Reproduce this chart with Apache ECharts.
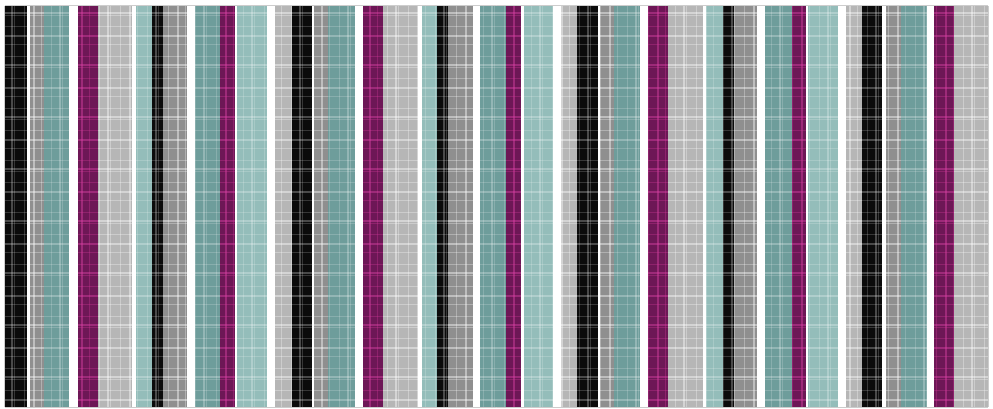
<!DOCTYPE html>
<html>
<head>
<meta charset="utf-8">
<script src="https://cdn.jsdelivr.net/npm/echarts@6/dist/echarts.min.js"></script>
<style>html,body{margin:0;padding:0;background:#fff}#c{width:993px;height:409px}</style>
</head>
<body>
<div id="c"></div>
<script>
// Stripe sequence (colour names) and widths, left to right
const stripeKinds = [
  'black','white','gray','teal','white','magenta','lightgray','white','lightteal',
  'black','gray','white','teal','magenta','white','lightteal','white','lightgray',
  'black','white','gray','teal','white','magenta','lightgray','white','lightteal',
  'black','gray','white','teal','magenta','white','lightteal','white','lightgray',
  'black','white','gray','teal','white','magenta','lightgray','white','lightteal',
  'black','gray','white','teal','magenta','white','lightteal','white','lightgray',
  'black','white','gray','teal','white','magenta','lightgray'
];
const stripeWidths = [
  22,3,14,25,9,20,34,4,16,
  11,24,8,25,15,2,30,8,17,
  20,2,14,27,8,20,35,4,15,
  11,25,7,26,15,3,29,8,16,
  21,2,14,26,8,20,35,3,17,
  11,23,8,27,14,2,30,8,16,
  20,4,15,26,7,20,34
];

const palette = {
  black: '#0b0b0b', white: '#ffffff', gray: '#8f8f8f', teal: '#6e9d9b',
  magenta: '#6d1756', lightgray: '#b6b6b6', lightteal: '#94bdba'
};

// fixed plaid texture overlay
function makeTexture(lineColor, strongColor) {
  const cv = document.createElement('canvas');
  cv.width = 48; cv.height = 52;
  const g = cv.getContext('2d');
  const xs = [[3,1],[11,2],[14,1],[24,1],[33,2],[41,1]];
  const ys = [[4,1],[12,2],[15,1],[26,1],[35,2],[44,1]];
  xs.forEach(([x, w]) => { g.fillStyle = w > 1 ? strongColor : lineColor; g.fillRect(x, 0, w, 52); });
  ys.forEach(([y, h]) => { g.fillStyle = h > 1 ? strongColor : lineColor; g.fillRect(0, y, 48, h); });
  return cv;
}
const texDark = makeTexture('rgba(255,255,255,0.18)', 'rgba(255,255,255,0.26)');
const texLight = makeTexture('rgba(255,255,255,0.30)', 'rgba(255,255,255,0.42)');
const texPink = makeTexture('rgba(220,60,160,0.30)', 'rgba(225,70,170,0.42)');

let acc = 0;
const data = stripeWidths.map((w, i) => {
  const d = [acc, acc + w, i];
  acc += w;
  return d;
});
const total = acc;

const chart = echarts.init(document.getElementById('c'), null, {renderer: 'canvas'});
chart.setOption({
  animation: false,
  grid: {left: 5, right: 5, top: 6, bottom: 2, show: true, borderColor: '#9a9a9a', borderWidth: 1, backgroundColor: '#fff'},
  xAxis: {type: 'value', min: 0, max: total, show: false},
  yAxis: {type: 'value', min: 0, max: 1, show: false},
  series: [{
    type: 'custom',
    data: data,
    encode: {x: [0, 1], y: 2},
    renderItem: function (params, api) {
      const s = api.coord([api.value(0), 1]);
      const e = api.coord([api.value(1), 0]);
      const kind = stripeKinds[api.value(2)];
      const shape = {x: s[0], y: s[1], width: e[0] - s[0], height: e[1] - s[1]};
      const children = [{type: 'rect', shape: shape, style: {fill: palette[kind]}}];
      if (kind !== 'white') {
        const tex = kind === 'magenta' ? texPink : (kind === 'lightgray' || kind === 'gray') ? texLight : texDark;
        children.push({type: 'rect', shape: shape, style: {fill: {image: tex, repeat: 'repeat'}}});
      }
      return {type: 'group', children: children};
    }
  }]
});
</script>
</body>
</html>
